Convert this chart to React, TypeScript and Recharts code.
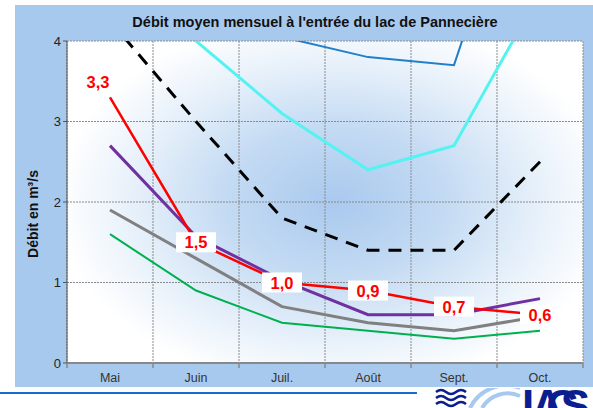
import React from "react"
import { LineChart, Line, XAxis, YAxis, CartesianGrid, LabelList } from "recharts"

const months = ["Mai", "Juin", "Juil.", "Août", "Sept.", "Oct."]

// débits (m3/s)
const bleu = [6.0, 4.6, 4.05, 3.8, 3.7, 6.9]
const cyan = [5.2, 4.0, 3.1, 2.4, 2.7, 4.6]
const moyenne = [4.25, 3.0, 1.8, 1.4, 1.4, 2.5]
const rouge = [3.3, 1.5, 1.0, 0.9, 0.7, 0.6]
const violet = [2.7, 1.57, 1.03, 0.6, 0.6, 0.8]
const gris = [1.9, 1.3, 0.7, 0.5, 0.4, 0.58]
const vert = [1.6, 0.9, 0.5, 0.4, 0.3, 0.4]

const yTicks = [0, 1, 2, 3, 4]
const bounds = [0, 1, 2, 3, 4, 5, 6]
// ticks: limites entre les mois (traits) + milieux (noms des mois)
const xTicks = [0, 0.5, 1, 1.5, 2, 2.5, 3, 3.5, 4, 4.5, 5, 5.5, 6]

const data = months.map((m, i) => ({
  mois: m,
  pos: i + 0.5,
  bleu: bleu[i],
  cyan: cyan[i],
  moyenne: moyenne[i],
  rouge: rouge[i],
  violet: violet[i],
  gris: gris[i],
  vert: vert[i],
}))

const font = "'Liberation Sans', Arial, sans-serif"

function MonthTick(props: any) {
  const { x, y, payload } = props
  const v = payload.value
  if (Number.isInteger(v)) {
    return <line x1={x} x2={x} y1={y} y2={y + 5} stroke="#888" strokeWidth={1.5} />
  }
  return (
    <text x={x} y={y + 19} textAnchor="middle" fill="#333" fontSize={12.5} fontFamily={font}>
      {months[Math.floor(v)]}
    </text>
  )
}

function RedLabel(props: any) {
  const { x, y, value, index } = props
  const text = Number(value).toFixed(1).replace(".", ",")
  const cx = index === 0 ? x - 12 : x
  const cy = index === 0 ? y - 15 : y
  return (
    <g>
      <rect x={cx - 20} y={cy - 10} width={40} height={20} fill="#fff" />
      <text
        x={cx}
        y={cy + 6}
        textAnchor="middle"
        fill="#ff0000"
        fontWeight="bold"
        fontSize={16.5}
        fontFamily={font}
      >
        {text}
      </text>
    </g>
  )
}

export default function App() {
  return (
    <div style={{ position: "absolute", left: 0, top: 0, width: 593, height: 408, overflow: "hidden", background: "#fff" }}>
      <div style={{ position: "absolute", left: 15, top: 5, width: 578, height: 382, background: "#a8c9ee" }} />
      <div
        style={{
          position: "absolute",
          left: 67,
          top: 41,
          width: 516,
          height: 322,
          background:
            "radial-gradient(ellipse 60% 65% at 52% 50%, #a9c9ee 0%, #c3daf3 35%, #e6f0fa 65%, #ffffff 90%)",
        }}
      />
      <div
        style={{
          position: "absolute",
          left: 0,
          top: 14,
          width: 593,
          textAlign: "center",
          fontFamily: font,
          fontWeight: "bold",
          fontSize: 14.5,
          color: "#111",
          paddingLeft: 37,
          boxSizing: "border-box",
        }}
      >
        Débit moyen mensuel à l'entrée du lac de Pannecière
      </div>
      <svg style={{ position: "absolute", left: 0, top: 0 }} width={60} height={408}>
        <text
          x={0}
          y={0}
          transform="translate(38 214) rotate(-90)"
          textAnchor="middle"
          fill="#111"
          fontWeight="bold"
          fontSize={14}
          fontFamily={font}
        >
          Débit en m³/s
        </text>
      </svg>
      <div style={{ position: "absolute", left: 0, top: 0 }}>
        <LineChart width={593} height={408} data={data} margin={{ top: 41, right: 10, bottom: 15, left: 27 }}>
          <XAxis
            type="number"
            dataKey="pos"
            domain={[0, 6]}
            ticks={xTicks}
            interval={0}
            tick={<MonthTick />}
            tickLine={false}
            tickSize={0}
            tickMargin={0}
            height={30}
            stroke="#888"
            strokeWidth={2}
          />
          <XAxis xAxisId="g" type="number" dataKey="pos" domain={[0, 6]} ticks={bounds} interval={0} hide />
          <YAxis
            domain={[0, 4]}
            ticks={yTicks}
            allowDataOverflow
            width={40}
            stroke="#555"
            tickSize={4}
            tick={{ fill: "#222", fontSize: 13, fontFamily: font }}
          />
          <CartesianGrid xAxisId="g" stroke="#8a8a8a" strokeDasharray="2 1" />
          <Line dataKey="vert" stroke="#00b050" strokeWidth={2} dot={false} isAnimationActive={false} />
          <Line dataKey="gris" stroke="#808080" strokeWidth={3} dot={false} isAnimationActive={false} />
          <Line dataKey="violet" stroke="#7030a0" strokeWidth={3} dot={false} isAnimationActive={false} />
          <Line dataKey="moyenne" stroke="#000" strokeWidth={3} strokeDasharray="13 9" dot={false} isAnimationActive={false} />
          <Line dataKey="cyan" stroke="#55f2f2" strokeWidth={3} dot={false} isAnimationActive={false} />
          <Line dataKey="bleu" stroke="#1f7fc9" strokeWidth={2} dot={false} isAnimationActive={false} />
          <Line dataKey="rouge" stroke="#ff0000" strokeWidth={2.5} dot={false} isAnimationActive={false}>
            <LabelList dataKey="rouge" content={RedLabel} />
          </Line>
        </LineChart>
      </div>
      <div style={{ position: "absolute", left: 0, top: 392, width: 417, height: 2, background: "#1a6bd1" }} />
      <svg style={{ position: "absolute", left: 430, top: 388 }} width={163} height={20}>
        <path d="M6 4 q5 -4 10 0 t10 0 t10 0" stroke="#0b1e8f" strokeWidth={2.5} fill="none" />
        <path d="M6 10 q5 -4 10 0 t10 0 t10 0" stroke="#0b1e8f" strokeWidth={2.5} fill="none" />
        <path d="M6 16 q5 -4 10 0 t10 0 t10 0" stroke="#0b1e8f" strokeWidth={2.5} fill="none" />
        <path d="M40 20 a40 40 0 0 1 50 -20" stroke="#a8c9ee" strokeWidth={4} fill="none" />
        <path d="M52 20 a30 30 0 0 1 38 -12" stroke="#a8c9ee" strokeWidth={4} fill="none" />
        <text x={92} y={33} fill="#0b1e8f" fontWeight="bold" fontSize={44} fontFamily={font} textLength={68}>
          LACS
        </text>
      </svg>
    </div>
  )
}
